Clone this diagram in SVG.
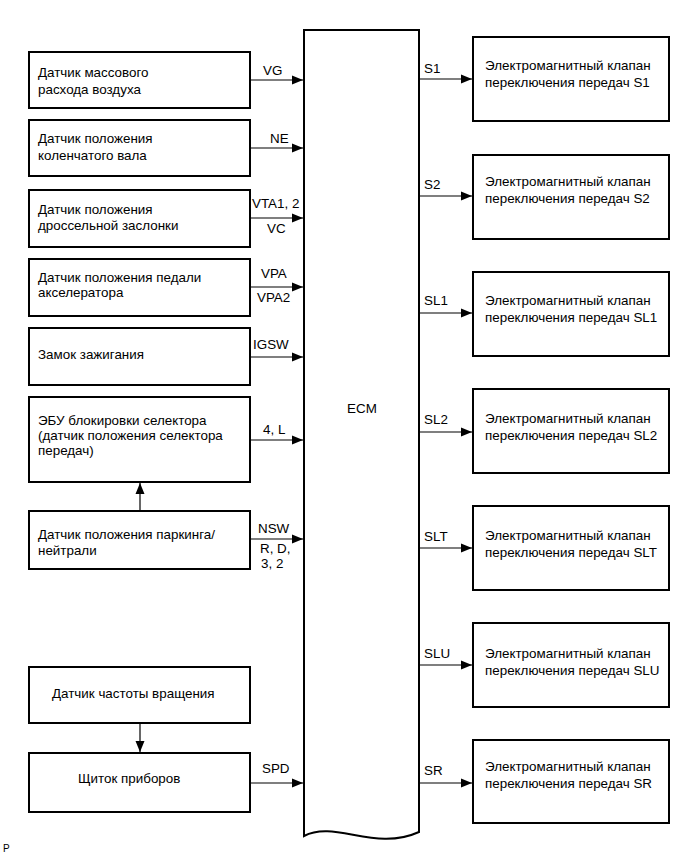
<svg xmlns="http://www.w3.org/2000/svg" width="690" height="854" viewBox="0 0 690 854">
<style>
text{font-family:"Liberation Sans",Arial,sans-serif;font-size:13.4px;fill:#000}
.box{fill:#fff;stroke:#000;stroke-width:2}
.ln{stroke:#000;stroke-width:1.2;fill:none}
.small{font-size:10px}
</style>
<defs>
<marker id="ah" markerWidth="11" markerHeight="10" refX="11" refY="5" orient="auto" markerUnits="userSpaceOnUse"><path d="M0,0.5 L11,5 L0,9.5 z" fill="#000"/></marker>
</defs>
<rect width="690" height="854" fill="#fff"/>

<g id="ecm">
<path class="box" d="M304,836 L304,30 L419,30 L419,832 C375,852 335,820 304,836 Z"/>
<text x="362" y="413" text-anchor="middle">ECM</text>
</g>

<g id="maf">
<rect class="box" x="29" y="52" width="221" height="56"/>
<text x="38" y="77">Датчик массового</text>
<text x="38" y="94">расхода воздуха</text>
</g>
<g id="ckp">
<rect class="box" x="29" y="120" width="221" height="56"/>
<text x="38" y="143">Датчик положения</text>
<text x="38" y="160">коленчатого вала</text>
</g>
<g id="tps">
<rect class="box" x="29" y="190" width="221" height="57"/>
<text x="38" y="214">Датчик положения</text>
<text x="38" y="230">дроссельной заслонки</text>
</g>
<g id="app">
<rect class="box" x="29" y="259" width="221" height="57"/>
<text x="38" y="282">Датчик положения педали</text>
<text x="38" y="297">акселератора</text>
</g>
<g id="ign">
<rect class="box" x="29" y="328" width="221" height="57"/>
<text x="38" y="359">Замок зажигания</text>
</g>
<g id="shiftlock">
<rect class="box" x="29" y="397" width="221" height="85"/>
<text x="38" y="425">ЭБУ блокировки селектора</text>
<text x="38" y="440">(датчик положения селектора</text>
<text x="38" y="455">передач)</text>
</g>
<g id="pnp">
<rect class="box" x="29" y="511" width="221" height="58"/>
<text x="38" y="539">Датчик положения паркинга/</text>
<text x="38" y="555">нейтрали</text>
</g>
<g id="speed">
<rect class="box" x="29" y="667" width="221" height="56"/>
<text x="52" y="698">Датчик частоты вращения</text>
</g>
<g id="meter">
<rect class="box" x="29" y="753" width="221" height="59"/>
<text x="78" y="783">Щиток приборов</text>
</g>

<g id="s1"><rect class="box" x="473" y="37" width="196" height="84"/><text x="485" y="70">Электромагнитный клапан</text><text x="485" y="87">переключения передач S1</text></g>
<g id="s2"><rect class="box" x="473" y="155" width="196" height="84"/><text x="485" y="186">Электромагнитный клапан</text><text x="485" y="203">переключения передач S2</text></g>
<g id="sl1"><rect class="box" x="473" y="272" width="196" height="84"/><text x="485" y="305">Электромагнитный клапан</text><text x="485" y="322">переключения передач SL1</text></g>
<g id="sl2"><rect class="box" x="473" y="389" width="196" height="84"/><text x="485" y="423">Электромагнитный клапан</text><text x="485" y="440">переключения передач SL2</text></g>
<g id="slt"><rect class="box" x="473" y="506" width="196" height="84"/><text x="485" y="540">Электромагнитный клапан</text><text x="485" y="557">переключения передач SLT</text></g>
<g id="slu"><rect class="box" x="473" y="623" width="196" height="84"/><text x="485" y="658">Электромагнитный клапан</text><text x="485" y="675">переключения передач SLU</text></g>
<g id="sr"><rect class="box" x="473" y="740" width="196" height="83"/><text x="485" y="771">Электромагнитный клапан</text><text x="485" y="788">переключения передач SR</text></g>

<g id="connectors">
<line class="ln" x1="250" y1="80" x2="303" y2="80" marker-end="url(#ah)"/>
<line class="ln" x1="250" y1="148" x2="303" y2="148" marker-end="url(#ah)"/>
<line class="ln" x1="250" y1="218" x2="303" y2="218" marker-end="url(#ah)"/>
<line class="ln" x1="250" y1="287" x2="303" y2="287" marker-end="url(#ah)"/>
<line class="ln" x1="250" y1="357" x2="303" y2="357" marker-end="url(#ah)"/>
<line class="ln" x1="250" y1="440" x2="303" y2="440" marker-end="url(#ah)"/>
<line class="ln" x1="250" y1="539" x2="303" y2="539" marker-end="url(#ah)"/>
<line class="ln" x1="250" y1="783" x2="303" y2="783" marker-end="url(#ah)"/>
<line class="ln" x1="140" y1="511" x2="140" y2="483" marker-end="url(#ah)"/>
<line class="ln" x1="140" y1="723" x2="140" y2="752" marker-end="url(#ah)"/>
<line class="ln" x1="419" y1="79" x2="472" y2="79" marker-end="url(#ah)"/>
<line class="ln" x1="419" y1="196" x2="472" y2="196" marker-end="url(#ah)"/>
<line class="ln" x1="419" y1="313" x2="472" y2="313" marker-end="url(#ah)"/>
<line class="ln" x1="419" y1="432" x2="472" y2="432" marker-end="url(#ah)"/>
<line class="ln" x1="419" y1="548" x2="472" y2="548" marker-end="url(#ah)"/>
<line class="ln" x1="419" y1="665" x2="472" y2="665" marker-end="url(#ah)"/>
<line class="ln" x1="419" y1="783" x2="472" y2="783" marker-end="url(#ah)"/>
<text x="263" y="75">VG</text>
<text x="270" y="143">NE</text>
<text x="252" y="208">VTA1, 2</text>
<text x="267" y="233">VC</text>
<text x="261" y="278">VPA</text>
<text x="257" y="302">VPA2</text>
<text x="253" y="349">IGSW</text>
<text x="263" y="434">4, L</text>
<text x="258" y="533">NSW</text>
<text x="260" y="553">R, D,</text>
<text x="261" y="568">3, 2</text>
<text x="262" y="773">SPD</text>
<text x="424" y="73">S1</text>
<text x="424" y="189">S2</text>
<text x="424" y="305">SL1</text>
<text x="424" y="424">SL2</text>
<text x="424" y="541">SLT</text>
<text x="424" y="658">SLU</text>
<text x="424" y="775">SR</text>
</g>
<text class="small" x="3" y="852">P</text>
</svg>
